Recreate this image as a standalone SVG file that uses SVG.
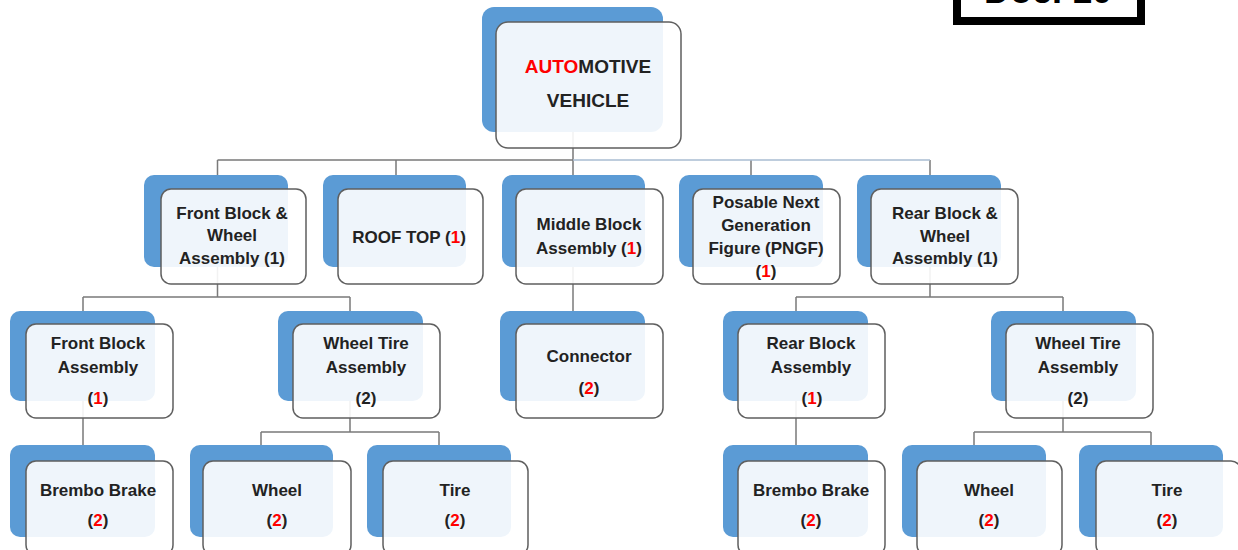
<svg xmlns="http://www.w3.org/2000/svg" width="1238" height="550" viewBox="0 0 1238 550">
<style>
.bk{fill:#5b9bd5}
.fr{fill:#ffffff;fill-opacity:0.9;stroke:#5f5f5f;stroke-width:1.5}
.t{font-family:"Liberation Sans",Arial,sans-serif;font-weight:bold;font-size:17px;fill:#222222;text-anchor:middle}
.rt{font-size:19px}
.r{fill:#ff0000}
.ln{fill:none;stroke:#7a7a7a;stroke-width:1.5}
.ll{fill:none;stroke:#a9bcd2;stroke-width:1.5}
</style>
<rect width="1238" height="550" fill="#ffffff"/>
<g id="doc">
<rect x="957" y="-20" width="184" height="41" fill="#ffffff" stroke="#000000" stroke-width="8"/>
<text x="1048" y="3" class="t" style="font-size:36px;fill:#000">Doc. 10</text>
</g>
<g id="connectors">
<path class="ln" d="M573,132V160M217.5,160H573M217.5,160V175M396,160V175M573,160V175M751,160V175M930,160V175"/>
<path class="ll" d="M573,160H930"/>
<path class="ln" d="M217.5,267V297M83,297H350M83,297V311M350,297V311"/>
<path class="ln" d="M573,267V311"/>
<path class="ln" d="M930,267V297M796,297H1063M796,297V311M1063,297V311"/>
<path class="ln" d="M83,401V445M796,401V445"/>
<path class="ln" d="M350,401V432M261,432H439M261,432V445M439,432V445"/>
<path class="ln" d="M1063,401V432M974,432H1151M974,432V445M1151,432V445"/>
</g>
<g id="root">
<rect class="bk" x="482" y="7" width="181" height="125" rx="12"/>
<rect class="fr" x="496" y="22" width="185" height="126" rx="12"/>
<text class="t rt" x="588" y="73"><tspan class="r">AUTO</tspan>MOTIVE</text>
<text class="t rt" x="588" y="107">VEHICLE</text>
</g>
<g id="front-block-wheel">
<rect class="bk" x="144" y="175" width="144" height="92" rx="10"/>
<rect class="fr" x="161" y="189" width="145" height="95" rx="10"/>
<text class="t" x="232" y="219">Front Block &amp;</text>
<text class="t" x="232" y="241">Wheel</text>
<text class="t" x="232" y="264">Assembly (1)</text>
</g>
<g id="roof-top">
<rect class="bk" x="323" y="175" width="143" height="92" rx="10"/>
<rect class="fr" x="338" y="189" width="145" height="95" rx="10"/>
<text class="t" x="409" y="243">ROOF TOP (<tspan class="r">1</tspan>)</text>
</g>
<g id="middle-block">
<rect class="bk" x="502" y="175" width="143" height="92" rx="10"/>
<rect class="fr" x="516" y="189" width="147" height="95" rx="10"/>
<text class="t" x="589" y="230">Middle Block</text>
<text class="t" x="589" y="254">Assembly (<tspan class="r">1</tspan>)</text>
</g>
<g id="pngf">
<rect class="bk" x="679" y="175" width="144" height="92" rx="10"/>
<rect class="fr" x="693" y="189" width="147" height="95" rx="10"/>
<text class="t" x="766" y="208">Posable Next</text>
<text class="t" x="766" y="231">Generation</text>
<text class="t" x="766" y="254">Figure (PNGF)</text>
<text class="t" x="766" y="277">(<tspan class="r">1</tspan>)</text>
</g>
<g id="rear-block-wheel">
<rect class="bk" x="857" y="175" width="144" height="92" rx="10"/>
<rect class="fr" x="871" y="189" width="147" height="95" rx="10"/>
<text class="t" x="945" y="219">Rear Block &amp;</text>
<text class="t" x="945" y="242">Wheel</text>
<text class="t" x="945" y="264">Assembly (1)</text>
</g>
<g id="front-block-assembly">
<rect class="bk" x="10" y="311" width="145" height="90" rx="10"/>
<rect class="fr" x="26" y="324" width="147" height="94" rx="10"/>
<text class="t" x="98" y="349">Front Block</text>
<text class="t" x="98" y="373">Assembly</text>
<text class="t" x="98" y="404">(<tspan class="r">1</tspan>)</text>
</g>
<g id="wheel-tire-assembly-left">
<rect class="bk" x="278" y="311" width="145" height="90" rx="10"/>
<rect class="fr" x="293" y="324" width="147" height="94" rx="10"/>
<text class="t" x="366" y="349">Wheel Tire</text>
<text class="t" x="366" y="373">Assembly</text>
<text class="t" x="366" y="404">(2)</text>
</g>
<g id="connector">
<rect class="bk" x="500" y="311" width="145" height="90" rx="10"/>
<rect class="fr" x="516" y="324" width="147" height="94" rx="10"/>
<text class="t" x="589" y="362">Connector</text>
<text class="t" x="589" y="394">(<tspan class="r">2</tspan>)</text>
</g>
<g id="rear-block-assembly">
<rect class="bk" x="723" y="311" width="145" height="90" rx="10"/>
<rect class="fr" x="738" y="324" width="147" height="94" rx="10"/>
<text class="t" x="811" y="349">Rear Block</text>
<text class="t" x="811" y="373">Assembly</text>
<text class="t" x="812" y="404">(<tspan class="r">1</tspan>)</text>
</g>
<g id="wheel-tire-assembly-right">
<rect class="bk" x="991" y="311" width="145" height="90" rx="10"/>
<rect class="fr" x="1006" y="324" width="147" height="94" rx="10"/>
<text class="t" x="1078" y="349">Wheel Tire</text>
<text class="t" x="1078" y="373">Assembly</text>
<text class="t" x="1078" y="404">(2)</text>
</g>
<g id="brembo-left">
<rect class="bk" x="10" y="445" width="145" height="92" rx="10"/>
<rect class="fr" x="26" y="461" width="147" height="94" rx="10"/>
<text class="t" x="98" y="496">Brembo Brake</text>
<text class="t" x="98" y="526">(<tspan class="r">2</tspan>)</text>
</g>
<g id="wheel-left">
<rect class="bk" x="190" y="445" width="143" height="92" rx="10"/>
<rect class="fr" x="203" y="461" width="148" height="94" rx="10"/>
<text class="t" x="277" y="496">Wheel</text>
<text class="t" x="277" y="526">(<tspan class="r">2</tspan>)</text>
</g>
<g id="tire-left">
<rect class="bk" x="367" y="445" width="144" height="92" rx="10"/>
<rect class="fr" x="383" y="461" width="145" height="94" rx="10"/>
<text class="t" x="455" y="496">Tire</text>
<text class="t" x="455" y="526">(<tspan class="r">2</tspan>)</text>
</g>
<g id="brembo-right">
<rect class="bk" x="723" y="445" width="145" height="92" rx="10"/>
<rect class="fr" x="738" y="461" width="147" height="94" rx="10"/>
<text class="t" x="811" y="496">Brembo Brake</text>
<text class="t" x="811" y="526">(<tspan class="r">2</tspan>)</text>
</g>
<g id="wheel-right">
<rect class="bk" x="902" y="445" width="144" height="92" rx="10"/>
<rect class="fr" x="917" y="461" width="145" height="94" rx="10"/>
<text class="t" x="989" y="496">Wheel</text>
<text class="t" x="989" y="526">(<tspan class="r">2</tspan>)</text>
</g>
<g id="tire-right">
<rect class="bk" x="1079" y="445" width="144" height="92" rx="10"/>
<rect class="fr" x="1096" y="461" width="145" height="94" rx="10"/>
<text class="t" x="1167" y="496">Tire</text>
<text class="t" x="1167" y="526">(<tspan class="r">2</tspan>)</text>
</g>
</svg>
